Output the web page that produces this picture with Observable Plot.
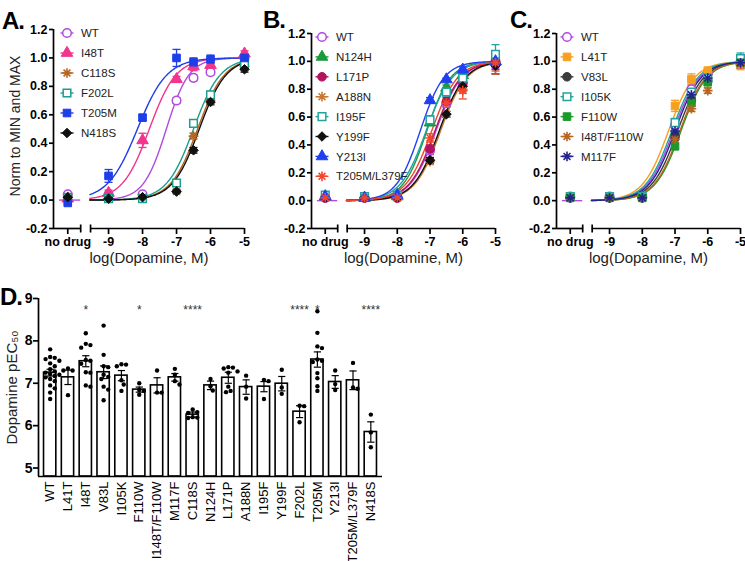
<!DOCTYPE html>
<html><head><meta charset="utf-8">
<script src="https://cdn.jsdelivr.net/npm/d3@7"></script>
<script src="https://cdn.jsdelivr.net/npm/@observablehq/plot@0.6"></script>
<style>
body{margin:0;background:#fff;font-family:"Liberation Sans",Arial,sans-serif;}
#root{position:relative;width:745px;height:561px;overflow:hidden;background:#fff;}
.pane{position:absolute;}
.letter{position:absolute;font-weight:bold;font-size:24px;line-height:1;letter-spacing:-1px;font-family:"Liberation Sans",Arial,sans-serif;}
</style></head><body><div id="root"></div><script>
// ---------- data ----------
const doses = ["no drug", "-9", "-8", "-7", "-6.5", "-6", "-5"];
const xTickLabels = ["no drug", "-9", "-8", "-7", "-6", "-5"];
const yTicks = [-0.2, 0, 0.2, 0.4, 0.6, 0.8, 1.0, 1.2];

// Panel A
const namesA = ["WT", "I48T", "C118S", "F202L", "T205M", "N418S"];
const valuesA = [
  [0.04, 0.04, 0.04, 0.70, 0.86, 0.90, 1.00],
  [0.01, 0.05, 0.42, 0.85, 0.94, 0.95, 1.03],
  [0.02, 0.01, 0.02, 0.06, 0.45, 0.70, 0.94],
  [0.02, 0.01, 0.01, 0.12, 0.54, 0.74, 0.96],
  [-0.02, 0.17, 0.58, 1.00, 0.97, 0.99, 1.00],
  [0.02, 0.01, 0.02, 0.06, 0.35, 0.69, 0.92]];
const errorsA = [
  [0.01, 0.01, 0.01, 0.02, 0.02, 0.02, 0.01],
  [0.01, 0.02, 0.05, 0.02, 0.03, 0.03, 0.02],
  [0.01, 0.01, 0.01, 0.01, 0.02, 0.02, 0.02],
  [0.01, 0.01, 0.01, 0.02, 0.02, 0.02, 0.02],
  [0.01, 0.045, 0.02, 0.06, 0.03, 0.03, 0.02],
  [0.01, 0.01, 0.01, 0.01, 0.02, 0.02, 0.02]];
const logEC50A = [-7.3, -7.8, -6.38, -6.5, -8.15, -6.33];
const hillA = [1.3, 1.1, 1.1, 1.1, 1.0, 1.1];
const colorsA = ["#b04ae0", "#f0358c", "#b8651f", "#1e9c8c", "#1e3ee8", "#111111"];
const symbolsA = ["circle", "triangle", "asterisk", "square", "square", "diamond2"];
const openA = [true, false, false, true, false, false];

// Panel B
const namesB = ["WT", "N124H", "L171P", "A188N", "I195F", "Y199F", "Y213I", "T205M/L379F"];
const valuesB = [
  [0.02, 0.02, 0.02, 0.36, 0.70, 0.84, 1.00],
  [0.03, 0.02, 0.03, 0.56, 0.81, 0.90, 1.00],
  [0.02, 0.02, 0.02, 0.37, 0.71, 0.85, 1.00],
  [0.03, 0.02, 0.03, 0.28, 0.62, 0.80, 0.98],
  [0.04, 0.03, 0.04, 0.58, 0.78, 0.88, 1.05],
  [0.02, 0.02, 0.02, 0.29, 0.62, 0.82, 0.97],
  [0.03, 0.02, 0.04, 0.72, 0.87, 0.94, 1.00],
  [0.02, 0.02, 0.02, 0.45, 0.70, 0.79, 0.99]];
const errorsB = [
  [0.01, 0.01, 0.01, 0.03, 0.02, 0.03, 0.05],
  [0.01, 0.01, 0.01, 0.02, 0.02, 0.02, 0.04],
  [0.01, 0.01, 0.01, 0.03, 0.03, 0.06, 0.06],
  [0.01, 0.01, 0.01, 0.02, 0.02, 0.03, 0.05],
  [0.02, 0.01, 0.01, 0.03, 0.03, 0.03, 0.07],
  [0.01, 0.01, 0.01, 0.02, 0.02, 0.03, 0.06],
  [0.01, 0.01, 0.01, 0.02, 0.01, 0.02, 0.03],
  [0.01, 0.01, 0.01, 0.03, 0.03, 0.06, 0.08]];
const logEC50B = [-6.82, -7.1, -6.85, -6.68, -7.12, -6.72, -7.3, -6.95];
const hillB = [1.1, 1.2, 1.1, 1.1, 1.1, 1.1, 1.2, 1.1];
const colorsB = ["#b04ae0", "#1a9a3a", "#b3125e", "#c87832", "#22a3a3", "#111111", "#2040f0", "#f2452e"];
const symbolsB = ["circle", "triangle", "circle", "asterisk", "square", "diamond2", "triangle", "asterisk"];
const openB = [true, false, false, false, true, false, false, false];

// Panel C
const namesC = ["WT", "L41T", "V83L", "I105K", "F110W", "I48T/F110W", "M117F"];
const valuesC = [
  [0.03, 0.03, 0.03, 0.54, 0.80, 0.91, 0.98],
  [0.03, 0.03, 0.03, 0.68, 0.87, 0.93, 0.98],
  [0.02, 0.02, 0.02, 0.46, 0.72, 0.86, 1.00],
  [0.03, 0.03, 0.03, 0.56, 0.78, 0.88, 1.02],
  [0.02, 0.02, 0.02, 0.39, 0.70, 0.85, 0.99],
  [0.02, 0.02, 0.02, 0.44, 0.66, 0.79, 0.98],
  [0.02, 0.02, 0.02, 0.50, 0.76, 0.88, 0.99]];
const errorsC = [
  [0.01, 0.01, 0.01, 0.03, 0.03, 0.02, 0.03],
  [0.02, 0.02, 0.02, 0.04, 0.04, 0.03, 0.04],
  [0.01, 0.01, 0.01, 0.03, 0.02, 0.02, 0.03],
  [0.01, 0.01, 0.01, 0.03, 0.02, 0.02, 0.04],
  [0.01, 0.01, 0.01, 0.02, 0.02, 0.02, 0.03],
  [0.01, 0.01, 0.01, 0.03, 0.02, 0.02, 0.03],
  [0.01, 0.01, 0.01, 0.02, 0.02, 0.02, 0.03]];
const logEC50C = [-7.05, -7.2, -6.92, -7.1, -6.82, -6.85, -7.0];
const hillC = [1.1, 1.1, 1.1, 1.1, 1.1, 1.1, 1.1];
const colorsC = ["#b04ae0", "#f7a020", "#3c3c3c", "#22a3a3", "#1a9a2a", "#b8651f", "#23238f"];
const symbolsC = ["circle", "square", "circle", "square", "square", "asterisk", "asterisk"];
const openC = [true, false, false, true, false, false, false];

// Panel D
const genotypes = ["WT", "L41T", "I48T", "V83L", "I105K", "F110W", "I148T/F110W", "M117F", "C118S", "N124H",
  "L171P", "A188N", "I195F", "Y199F", "F202L", "T205M", "Y213I", "T205M/L379F", "N418S"];
const meanPEC50 = [7.25, 7.14, 7.52, 7.26, 7.18, 6.85, 6.95, 7.14, 6.26, 6.95, 7.13, 6.91, 6.92, 6.99, 6.33, 7.56, 7.03, 7.07, 5.85];
const semPEC50 = [0.08, 0.17, 0.13, 0.15, 0.12, 0.06, 0.18, 0.09, 0.06, 0.10, 0.13, 0.17, 0.12, 0.17, 0.14, 0.18, 0.15, 0.22, 0.24];
const pointsPEC50 = [
  [7.80, 7.62, 7.60, 7.57, 7.53, 7.47, 7.40, 7.33, 7.28, 7.25, 7.22, 7.20, 7.17, 7.14, 7.10, 7.05, 6.95, 6.88, 6.78, 6.63],
  [7.35, 7.30, 7.30, 6.72],
  [8.18, 7.93, 7.90, 7.84, 7.55, 7.53, 7.46, 7.26, 7.25, 6.95, 6.92],
  [8.36, 7.67, 7.40, 7.38, 7.20, 7.15, 7.10, 6.92, 6.85, 6.60],
  [7.45, 7.44, 7.40, 7.07, 6.97, 6.82],
  [7.00, 6.84, 6.82, 6.73],
  [7.30, 6.78, 6.78],
  [7.34, 7.20, 7.05, 6.97],
  [6.38, 6.32, 6.30, 6.20, 6.19, 6.18],
  [7.10, 6.93, 6.83],
  [7.38, 7.37, 7.35, 7.28, 7.25, 6.92, 6.82, 6.79],
  [7.18, 6.92, 6.64],
  [7.08, 7.05, 6.63],
  [7.32, 6.90, 6.75],
  [6.47, 6.46, 6.08],
  [8.70, 8.19, 7.87, 7.83, 7.56, 7.53, 7.50, 7.24, 7.12, 6.93, 6.82],
  [7.30, 6.98, 6.84],
  [7.48, 6.90, 6.87],
  [6.26, 5.84, 5.49]];
const sigLabels = ["", "", "*", "", "", "*", "", "", "****", "", "", "", "", "", "****", "*", "", "", "****"];
const dTicks = [5, 6, 7, 8, 9];

// ---------- layout constants ----------
const FONT = "Liberation Sans, Arial, Helvetica, sans-serif";
const NO_DRUG = -10.2, X_LO = -10.62, X_HI = -5, BREAK_L = -9.82, BREAK_R = -9.53;
const pos = d => d === "no drug" ? NO_DRUG : +d;

const asteriskSym = {draw(ctx, size) { const r = Math.sqrt(size / Math.PI) * 1.15;
  for (let k = 0; k < 4; k++) { const a = k * Math.PI / 4, c = Math.cos(a) * r, s = Math.sin(a) * r; ctx.moveTo(c, s); ctx.lineTo(-c, -s); } }};
const capSym = {draw(ctx, size) { const w = Math.sqrt(size / Math.PI); ctx.moveTo(-w, 0); ctx.lineTo(w, 0); }};
const vbarSym = {draw(ctx, size) { const h = Math.sqrt(size / Math.PI); ctx.moveTo(0, -h); ctx.lineTo(0, h); }};
const plotSym = s => s === "asterisk" ? asteriskSym : s;
const d3Sym = s => ({circle: d3.symbolCircle, triangle: d3.symbolTriangle, square: d3.symbolSquare, diamond2: d3.symbolDiamond2, asterisk: asteriskSym})[s];
const R = 4.3;

function doseChart(cfg) {
  const {names, values, errors, logEC50, hill, colors, symbols, open, width, height, marginLeft, marginRight, marginTop, marginBottom, yTitle} = cfg;
  const curveX = d3.range(BREAK_R - 0.02, X_HI + 0.0001, 0.02);
  const marks = [];
  // axes lines
  marks.push(Plot.ruleX([X_LO], {y1: -0.2, y2: 1.2, stroke: "black", strokeWidth: 1.7}));
  marks.push(Plot.ruleY([[X_LO, BREAK_L], [BREAK_R, X_HI]], {y: -0.2, x1: d => d[0], x2: d => d[1], stroke: "black", strokeWidth: 1.7}));
  marks.push(Plot.dot([BREAK_L, BREAK_R], {x: d => d, y: -0.2, symbol: vbarSym, r: 4, stroke: "black", strokeWidth: 1.7, fill: "none"}));
  marks.push(Plot.axisY({ticks: yTicks, tickFormat: d => d.toFixed(1), tickSize: 4, tickPadding: 2, strokeWidth: 1.7, fontSize: 12.5, fontWeight: "bold", label: null}));
  marks.push(Plot.axisX({ticks: xTickLabels.map(pos), tickFormat: d => d === NO_DRUG ? "no drug" : String(d), tickSize: 6, tickPadding: 3, strokeWidth: 1.7, fontSize: 12.5, fontWeight: "bold", label: null}));
  marks.push(Plot.text(["log(Dopamine, M)"], {frameAnchor: "bottom", textAnchor: "middle", dy: 34, fontSize: 15, fontWeight: "normal", fill: "#222"}));
  if (yTitle) marks.push(Plot.text([yTitle], {frameAnchor: "left", textAnchor: "middle", rotate: -90, dx: -38, dy: -3, fontSize: 14, fontWeight: "normal", fill: "#222"}));
  // baseline segment in the "no drug" section
  marks.push(Plot.ruleY([0], {x1: NO_DRUG - 0.24, x2: BREAK_L, stroke: colors[0], strokeWidth: 1.4}));
  // fitted curves
  names.forEach((n, s) => {
    const pts = curveX.map(x => ({x, y: 1 / (1 + Math.pow(10, (logEC50[s] - x) * hill[s]))}));
    marks.push(Plot.line(pts, {x: "x", y: "y", stroke: colors[s], strokeWidth: 1.4}));
  });
  // error bars
  names.forEach((n, s) => {
    const pts = doses.map((d, j) => ({x: pos(d), y: values[s][j], e: errors[s][j]}));
    marks.push(Plot.ruleX(pts, {x: "x", y1: d => d.y - d.e, y2: d => d.y + d.e, stroke: colors[s], strokeWidth: 1.3}));
    marks.push(Plot.dot(pts, {x: "x", y: d => d.y + d.e, symbol: capSym, r: 4, stroke: colors[s], strokeWidth: 1.3, fill: "none"}));
    marks.push(Plot.dot(pts, {x: "x", y: d => d.y - d.e, symbol: capSym, r: 4, stroke: colors[s], strokeWidth: 1.3, fill: "none"}));
  });
  // markers
  names.forEach((n, s) => {
    const pts = doses.map((d, j) => ({x: pos(d), y: values[s][j]}));
    const ast = symbols[s] === "asterisk";
    marks.push(Plot.dot(pts, {x: "x", y: "y", symbol: plotSym(symbols[s]), r: ast ? 4.2 : R,
      fill: ast ? "none" : (open[s] ? "white" : colors[s]), stroke: colors[s], strokeWidth: ast ? 1.6 : (open[s] ? 1.5 : 1)}));
  });
  return Plot.plot({
    width, height, marginLeft, marginRight, marginTop, marginBottom,
    x: {domain: [X_LO, X_HI], label: null}, y: {domain: [-0.2, 1.2], label: null},
    style: {fontFamily: FONT, fontSize: "12.5px", fontWeight: "bold", overflow: "visible", background: "transparent", color: "black"},
    marks
  });
}

function legend(root, names, colors, symbols, open, left, top, spacing) {
  const svg = d3.select(root).append("svg").attr("class", "pane")
    .style("left", left + "px").style("top", top + "px").style("overflow", "visible")
    .attr("width", 130).attr("height", spacing * names.length + 10);
  names.forEach((n, i) => {
    const g = svg.append("g").attr("transform", `translate(8,${8 + i * spacing})`);
    g.append("line").attr("x1", -6.5).attr("x2", 6.5).attr("stroke", colors[i]).attr("stroke-width", 1.4);
    const ast = symbols[i] === "asterisk";
    g.append("path").attr("d", d3.symbol(d3Sym(symbols[i]), Math.PI * (ast ? 4.2 : R) ** 2)())
      .attr("fill", ast ? "none" : (open[i] ? "white" : colors[i])).attr("stroke", colors[i])
      .attr("stroke-width", ast ? 1.6 : (open[i] ? 1.5 : 1));
    g.append("text").attr("x", 14).attr("dy", "0.36em").attr("font-family", FONT).attr("font-size", 11.5)
      .attr("fill", "#222").text(n);
  });
}

function swarm(vals) {
  const yPx = 42.4, xPx = 17.8, minD = 4.5, placed = [];
  return vals.map(v => {
    const y = v * yPx; let off = 0;
    for (let k = 0; k < 14; k++) {
      off = k === 0 ? 0 : (k % 2 ? 1 : -1) * Math.ceil(k / 2) * 2.3;
      if (placed.every(p => (p.x - off) ** 2 + (p.y - y) ** 2 >= minD * minD)) break;
    }
    placed.push({x: off, y});
    return off / xPx;
  });
}

function barChart() {
  const HALF = 0.345, D_LO = -0.655, D_HI = genotypes.length - 1 + 0.655, BASE = 4.8;
  const bars = genotypes.map((g, i) => ({i, g, m: meanPEC50[i], e: semPEC50[i], sig: sigLabels[i]}));
  const dots = [];
  pointsPEC50.forEach((vals, i) => { const offs = swarm(vals); vals.forEach((v, k) => dots.push({x: i + offs[k], v})); });
  return Plot.plot({
    width: 390, height: 276, marginLeft: 38, marginRight: 8, marginTop: 13, marginBottom: 85,
    x: {domain: [D_LO, D_HI], label: null}, y: {domain: [BASE, 9], label: null},
    style: {fontFamily: FONT, fontSize: "13px", overflow: "visible", background: "transparent", color: "black"},
    marks: [
      Plot.rect(bars, {x1: d => d.i - HALF, x2: d => d.i + HALF, y1: BASE, y2: "m", fill: "white", stroke: "black", strokeWidth: 1.6}),
      Plot.ruleX(bars, {x: "i", y1: d => d.m - d.e, y2: d => d.m + d.e, stroke: "black", strokeWidth: 1.2}),
      Plot.dot(bars, {x: "i", y: d => d.m + d.e, symbol: capSym, r: 3.6, stroke: "black", strokeWidth: 1.2, fill: "none"}),
      Plot.dot(bars, {x: "i", y: d => d.m - d.e, symbol: capSym, r: 3.6, stroke: "black", strokeWidth: 1.2, fill: "none"}),
      Plot.dot(dots, {x: "x", y: "v", r: 2.2, fill: "black", stroke: "none"}),
      Plot.text(bars.filter(d => d.sig), {x: "i", y: 8.72, text: "sig", fontSize: 12, fill: "#333"}),
      Plot.ruleX([D_LO], {y1: BASE, y2: 9, stroke: "black", strokeWidth: 1.7}),
      Plot.ruleY([BASE], {x1: D_LO, x2: D_HI, stroke: "black", strokeWidth: 1.7}),
      Plot.axisY({ticks: dTicks, tickFormat: d => String(d), tickSize: 5, tickPadding: 1, strokeWidth: 1.7, fontSize: 14, fontWeight: "bold", label: null}),
      Plot.axisX({ticks: d3.range(genotypes.length), tickFormat: i => genotypes[i], tickRotate: -90, tickSize: 0, tickPadding: 5, fontSize: 13, label: null}),
      Plot.text(["Dopamine pEC₅₀"], {frameAnchor: "left", textAnchor: "middle", rotate: -90, dx: -26, fontSize: 15, fill: "#222"})
    ]
  });
}

// ---------- assemble ----------
const root = document.getElementById("root");
function place(el, left, top) { const d = document.createElement("div"); d.className = "pane"; d.style.left = left + "px"; d.style.top = top + "px"; d.appendChild(el); root.appendChild(d); }
function letter(t, left, top) { const d = document.createElement("div"); d.className = "letter"; d.textContent = t; d.style.left = left + "px"; d.style.top = top + "px"; root.appendChild(d); }

place(doseChart({names: namesA, values: valuesA, errors: errorsA, logEC50: logEC50A, hill: hillA, colors: colorsA, symbols: symbolsA, open: openA,
  width: 250, height: 285, marginLeft: 53, marginRight: 6, marginTop: 29, marginBottom: 57, yTitle: "Norm to MIN and MAX"}), 0, 0);
place(doseChart({names: namesB, values: valuesB, errors: errorsB, logEC50: logEC50B, hill: hillB, colors: colorsB, symbols: symbolsB, open: openB,
  width: 250, height: 285, marginLeft: 53, marginRight: 13, marginTop: 33, marginBottom: 57}), 258, 0);
place(doseChart({names: namesC, values: valuesC, errors: errorsC, logEC50: logEC50C, hill: hillC, colors: colorsC, symbols: symbolsC, open: openC,
  width: 242, height: 285, marginLeft: 53, marginRight: 5, marginTop: 33, marginBottom: 57}), 503, 0);
place(barChart(), 0, 285);

legend(root, namesA, colorsA, symbolsA, openA, 59, 25, 20);
legend(root, namesB, colorsB, symbolsB, openB, 314, 29, 19.9);
legend(root, namesC, colorsC, symbolsC, openC, 559, 29, 19.9);

letter("A.", 2, 9);
letter("B.", 263, 8);
letter("C.", 510, 8);
letter("D.", 0, 285);
</script></body></html>
